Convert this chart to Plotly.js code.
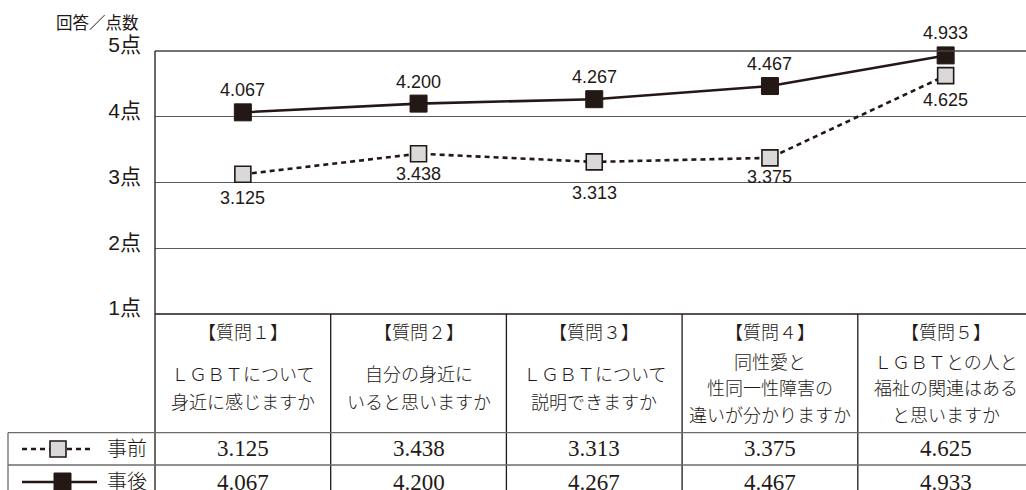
<!DOCTYPE html>
<html>
<head>
<meta charset="utf-8">
<script src="https://cdn.plot.ly/plotly-3.0.1.min.js"></script>
<style>
  html, body { margin: 0; padding: 0; background: #ffffff; }
  #chart { width: 1026px; height: 490px; }
</style>
</head>
<body>
<div id="chart"></div>
<script>
// ---- data ----
const categories = ['【質問１】', '【質問２】', '【質問３】', '【質問４】', '【質問５】'];
const questionLines = [
  ['ＬＧＢＴについて', '身近に感じますか'],
  ['自分の身近に', 'いると思いますか'],
  ['ＬＧＢＴについて', '説明できますか'],
  ['同性愛と', '性同一性障害の', '違いが分かりますか'],
  ['ＬＧＢＴとの人と', '福祉の関連はある', 'と思いますか']
];
const seriesNames = ['事前', '事後'];
const before = [3.125, 3.438, 3.313, 3.375, 4.625];
const after = [4.067, 4.200, 4.267, 4.467, 4.933];
const yTickVals = [1, 2, 3, 4, 5];
const yTickText = ['1点', '2点', '3点', '4点', '5点'];
const axisTitle = '回答／点数';

// ---- styling / geometry ----
const INK = '#231815';
const W = 1026, H = 490;
const L = 155, T = 51, B = 314;           // plot area pixel edges
const PW = W - L, PH = B - T;
const px = v => (v - L) / PW;              // pixel x -> paper x
const py = v => (B - v) / PH;              // pixel y -> paper y
const colW = 175.7;
const xMax = (W - L) / colW - 0.5;
const beforeLabelShift = [-24, -20, -31, -19, -24];
const afterLabelShift = 22;

const sansFont = 'Liberation Sans, Arial, Noto Sans CJK JP, sans-serif';
const tableFont = 'Liberation Serif, Noto Sans CJK JP, serif';
const cjkFont = 'Noto Sans CJK JP, sans-serif';

const idx = categories.map((_, i) => i);

const traces = [
  {
    x: idx, y: before, name: seriesNames[0], type: 'scatter', mode: 'lines+markers',
    line: { color: INK, width: 2.6, dash: '5px,4px' },
    marker: { symbol: 'square', size: 16, color: '#d9d9d9', line: { color: INK, width: 1.6 } },
    cliponaxis: false, showlegend: false
  },
  {
    x: idx, y: after, name: seriesNames[1], type: 'scatter', mode: 'lines+markers',
    line: { color: INK, width: 2.6 },
    marker: { symbol: 'square', size: 17, color: INK, line: { color: INK, width: 1 } },
    cliponaxis: false, showlegend: false
  }
];

const annotations = [];
const shapes = [];

// data labels
idx.forEach(i => {
  annotations.push({
    xref: 'x', yref: 'y', x: i, y: after[i], yshift: afterLabelShift,
    text: after[i].toFixed(3), showarrow: false, xanchor: 'center', yanchor: 'middle',
    font: { family: sansFont, size: 18, color: INK }
  });
  annotations.push({
    xref: 'x', yref: 'y', x: i, y: before[i], yshift: beforeLabelShift[i],
    text: before[i].toFixed(3), showarrow: false, xanchor: 'center', yanchor: 'middle',
    font: { family: sansFont, size: 18, color: INK }
  });
});

// axis title
annotations.push({
  xref: 'paper', yref: 'paper', x: px(141), y: py(22), xanchor: 'right', yanchor: 'middle',
  text: axisTitle, showarrow: false, font: { family: cjkFont, size: 16.5, color: INK }
});

const cjkWeight = 300;
// table header
idx.forEach(i => {
  annotations.push({
    xref: 'x', yref: 'paper', x: i, y: py(333), xanchor: 'center', yanchor: 'middle',
    text: categories[i], showarrow: false,
    font: { family: tableFont, size: 18, color: INK, weight: cjkWeight }
  });
  const lines = questionLines[i];
  const n = lines.length;
  const spacing = n > 2 ? 26.5 : 28;
  lines.forEach((t, j) => {
    annotations.push({
      xref: 'x', yref: 'paper', x: i, y: py(389 + (j - (n - 1) / 2) * spacing),
      xanchor: 'center', yanchor: 'middle', text: t, showarrow: false,
      font: { family: tableFont, size: 18, color: INK, weight: cjkWeight }
    });
  });
  annotations.push({
    xref: 'x', yref: 'paper', x: i, y: py(449), xanchor: 'center', yanchor: 'middle',
    text: before[i].toFixed(3), showarrow: false, font: { family: tableFont, size: 23, color: INK }
  });
  annotations.push({
    xref: 'x', yref: 'paper', x: i, y: py(482), xanchor: 'center', yanchor: 'middle',
    text: after[i].toFixed(3), showarrow: false, font: { family: tableFont, size: 23, color: INK }
  });
});

// legend cells text
annotations.push({
  xref: 'paper', yref: 'paper', x: px(127), y: py(449), xanchor: 'center', yanchor: 'middle',
  text: seriesNames[0], showarrow: false, font: { family: tableFont, size: 20, color: INK, weight: cjkWeight }
});
annotations.push({
  xref: 'paper', yref: 'paper', x: px(127), y: py(482), xanchor: 'center', yanchor: 'middle',
  text: seriesNames[1], showarrow: false, font: { family: tableFont, size: 20, color: INK, weight: cjkWeight }
});

// legend samples
shapes.push({ type: 'line', xref: 'paper', yref: 'paper', x0: px(22), x1: px(92), y0: py(449), y1: py(449),
  line: { color: INK, width: 2.6, dash: '5px,4px' } });
shapes.push({ type: 'rect', xref: 'paper', yref: 'paper', x0: px(50), x1: px(66), y0: py(441), y1: py(457),
  fillcolor: '#d9d9d9', line: { color: INK, width: 1.6 } });
shapes.push({ type: 'line', xref: 'paper', yref: 'paper', x0: px(22), x1: px(97), y0: py(482), y1: py(482),
  line: { color: INK, width: 2.6 } });
shapes.push({ type: 'rect', xref: 'paper', yref: 'paper', x0: px(54), x1: px(71), y0: py(473), y1: py(491),
  fillcolor: INK, line: { color: INK, width: 1 } });

// top frame line (5点) and table lines
shapes.push({ type: 'line', xref: 'paper', yref: 'paper', x0: 0, x1: 1, y0: 1, y1: 1,
  line: { color: '#444444', width: 1.3 } });
const bottom = py(495);
shapes.push({ type: 'line', xref: 'paper', yref: 'paper', x0: 0, x1: 0, y0: 1, y1: bottom,
  line: { color: INK, width: 1.3 } });
idx.slice(1).forEach(i => {
  shapes.push({ type: 'line', xref: 'x', yref: 'paper', x0: i - 0.5, x1: i - 0.5, y0: 0, y1: bottom,
    line: { color: INK, width: 1.3 } });
});
shapes.push({ type: 'line', xref: 'paper', yref: 'paper', x0: 0, x1: 1, y0: 0, y1: 0,
  line: { color: INK, width: 1.3 } });
[432.7, 465].forEach(yy => {
  shapes.push({ type: 'line', xref: 'paper', yref: 'paper', x0: px(8), x1: 1, y0: py(yy), y1: py(yy),
    line: { color: '#6b6b6b', width: 1.3 } });
});
shapes.push({ type: 'line', xref: 'paper', yref: 'paper', x0: px(8), x1: px(8), y0: py(432.7), y1: bottom,
  line: { color: '#6b6b6b', width: 1.3 } });

const layout = {
  width: W, height: H, autosize: false,
  margin: { l: L, r: 0, t: T, b: H - B, pad: 0 },
  paper_bgcolor: '#ffffff', plot_bgcolor: '#ffffff',
  showlegend: false, hovermode: false,
  xaxis: {
    range: [-0.5, xMax], showticklabels: false, showgrid: false, zeroline: false,
    showline: false, ticks: '', fixedrange: true
  },
  yaxis: {
    range: [1, 5], tickvals: yTickVals, ticktext: yTickText,
    showgrid: true, gridcolor: '#5a5a5a', gridwidth: 1.2, zeroline: false, showline: false,
    ticks: '', ticklabelshift: -6, ticklabelstandoff: 13,
    tickfont: { family: sansFont, size: 21, color: INK }, fixedrange: true
  },
  annotations: annotations,
  shapes: shapes
};

Plotly.newPlot('chart', traces, layout, { displayModeBar: false, staticPlot: true });
</script>
</body>
</html>
